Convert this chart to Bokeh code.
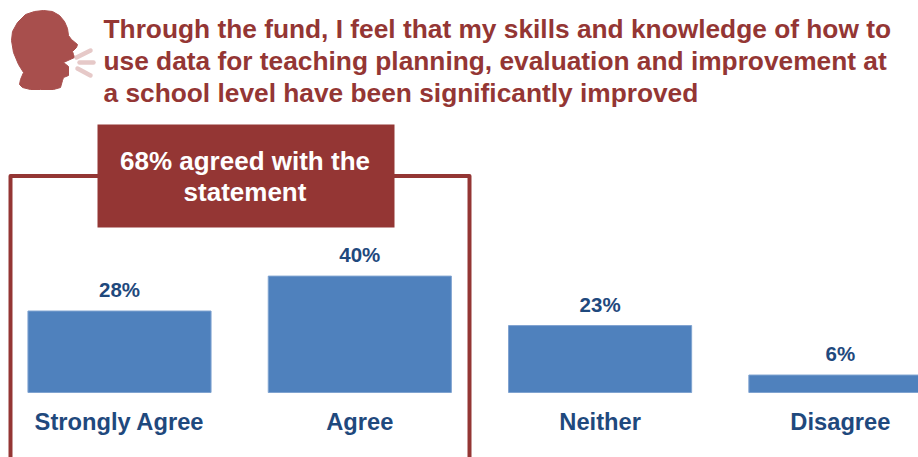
from bokeh.plotting import figure
from bokeh.models import Range1d, ColumnDataSource
from bokeh.core.properties import value
from bokeh.embed import file_html
from bokeh.resources import INLINE

categories = ["Strongly Agree", "Agree", "Neither", "Disagree"]
percent = [28, 40, 23, 6]
title_lines = [
    "Through the fund, I feel that my skills and knowledge of how to",
    "use data for teaching planning, evaluation and improvement at",
    "a school level have been significantly improved",
]
callout_lines = ["68% agreed with the", "statement"]

RED = "#943634"
BLUE = "#4F81BD"
NAVY = "#1F497D"
FONT = value("Liberation Sans")

W, H = 918, 457
p = figure(width=W, height=H, output_backend="svg", toolbar_location=None,
           x_range=Range1d(-119 / 240.3, (W - 119) / 240.3), y_range=Range1d(-65 / 2.91, 392 / 2.91),
           min_border=0, outline_line_color=None, background_fill_color="white")
p.axis.visible = False
p.grid.visible = False
p.extra_x_ranges["px"] = Range1d(0, W)
p.extra_y_ranges["px"] = Range1d(H, 0)
px = dict(x_range_name="px", y_range_name="px")

# head silhouette (pixels)
hx = [43, 52, 59, 64, 67, 68, 71, 77, 76, 72, 73, 74, 63, 68, 68, 63, 62, 60, 53, 40, 30, 22, 19, 20, 23, 18, 13, 11, 12, 17, 25, 34]
hy = [10, 11, 15, 21, 28, 35, 39, 44, 47, 51, 54, 57, 62, 66, 75, 77, 80, 87, 89, 89, 89, 87, 84, 79, 72, 64, 52, 40, 31, 22, 14, 11]
p.patch(hx, hy, fill_color="#A84F4D", line_color="#A84F4D", line_width=1, **px)
p.multi_line([[76, 90], [79, 93], [77, 90]], [[57, 50], [62, 62], [68, 75]],
             line_color="#E6C9C8", line_width=4.5, line_cap="round", **px)

# title
p.text([103] * 3, [28, 60, 92], text=title_lines, text_font=FONT, text_font_style="bold",
       text_font_size="26.3px", text_color=RED, text_baseline="middle", text_align="left", **px)

# frame around agreeing bars
p.multi_line([[10, 10, 469, 469]], [[457, 175.5, 175.5, 457]], line_color=RED, line_width=4, line_join="round", **px)

# callout
p.quad(left=[97], right=[394], top=[124], bottom=[227], fill_color=RED, line_color=None, **px)
p.text([244.5, 244.5], [160, 191], text=callout_lines, text_font=FONT, text_font_style="bold",
       text_font_size="26px", text_color="white", text_baseline="middle", text_align="center", **px)

# bars
idx = list(range(len(categories)))
src = ColumnDataSource(dict(x=idx, top=percent, lab=[f"{v}%" for v in percent]))
p.vbar(x="x", top="top", bottom=0, width=0.762, source=src, fill_color=BLUE, line_color="#7FA3D0", line_width=1)
p.text(x="x", y="top", text="lab", source=src, text_font=FONT, text_font_style="bold", text_font_size="20.5px",
       text_color=NAVY, text_align="center", text_baseline="bottom", y_offset=-10)
p.text(x=idx, y=[421] * 4, text=categories, y_range_name="px",
       text_font=FONT, text_font_style="bold", text_font_size="23.7px", text_color=NAVY,
       text_align="center", text_baseline="middle")

open("out.html", "w").write(file_html(p, INLINE))
